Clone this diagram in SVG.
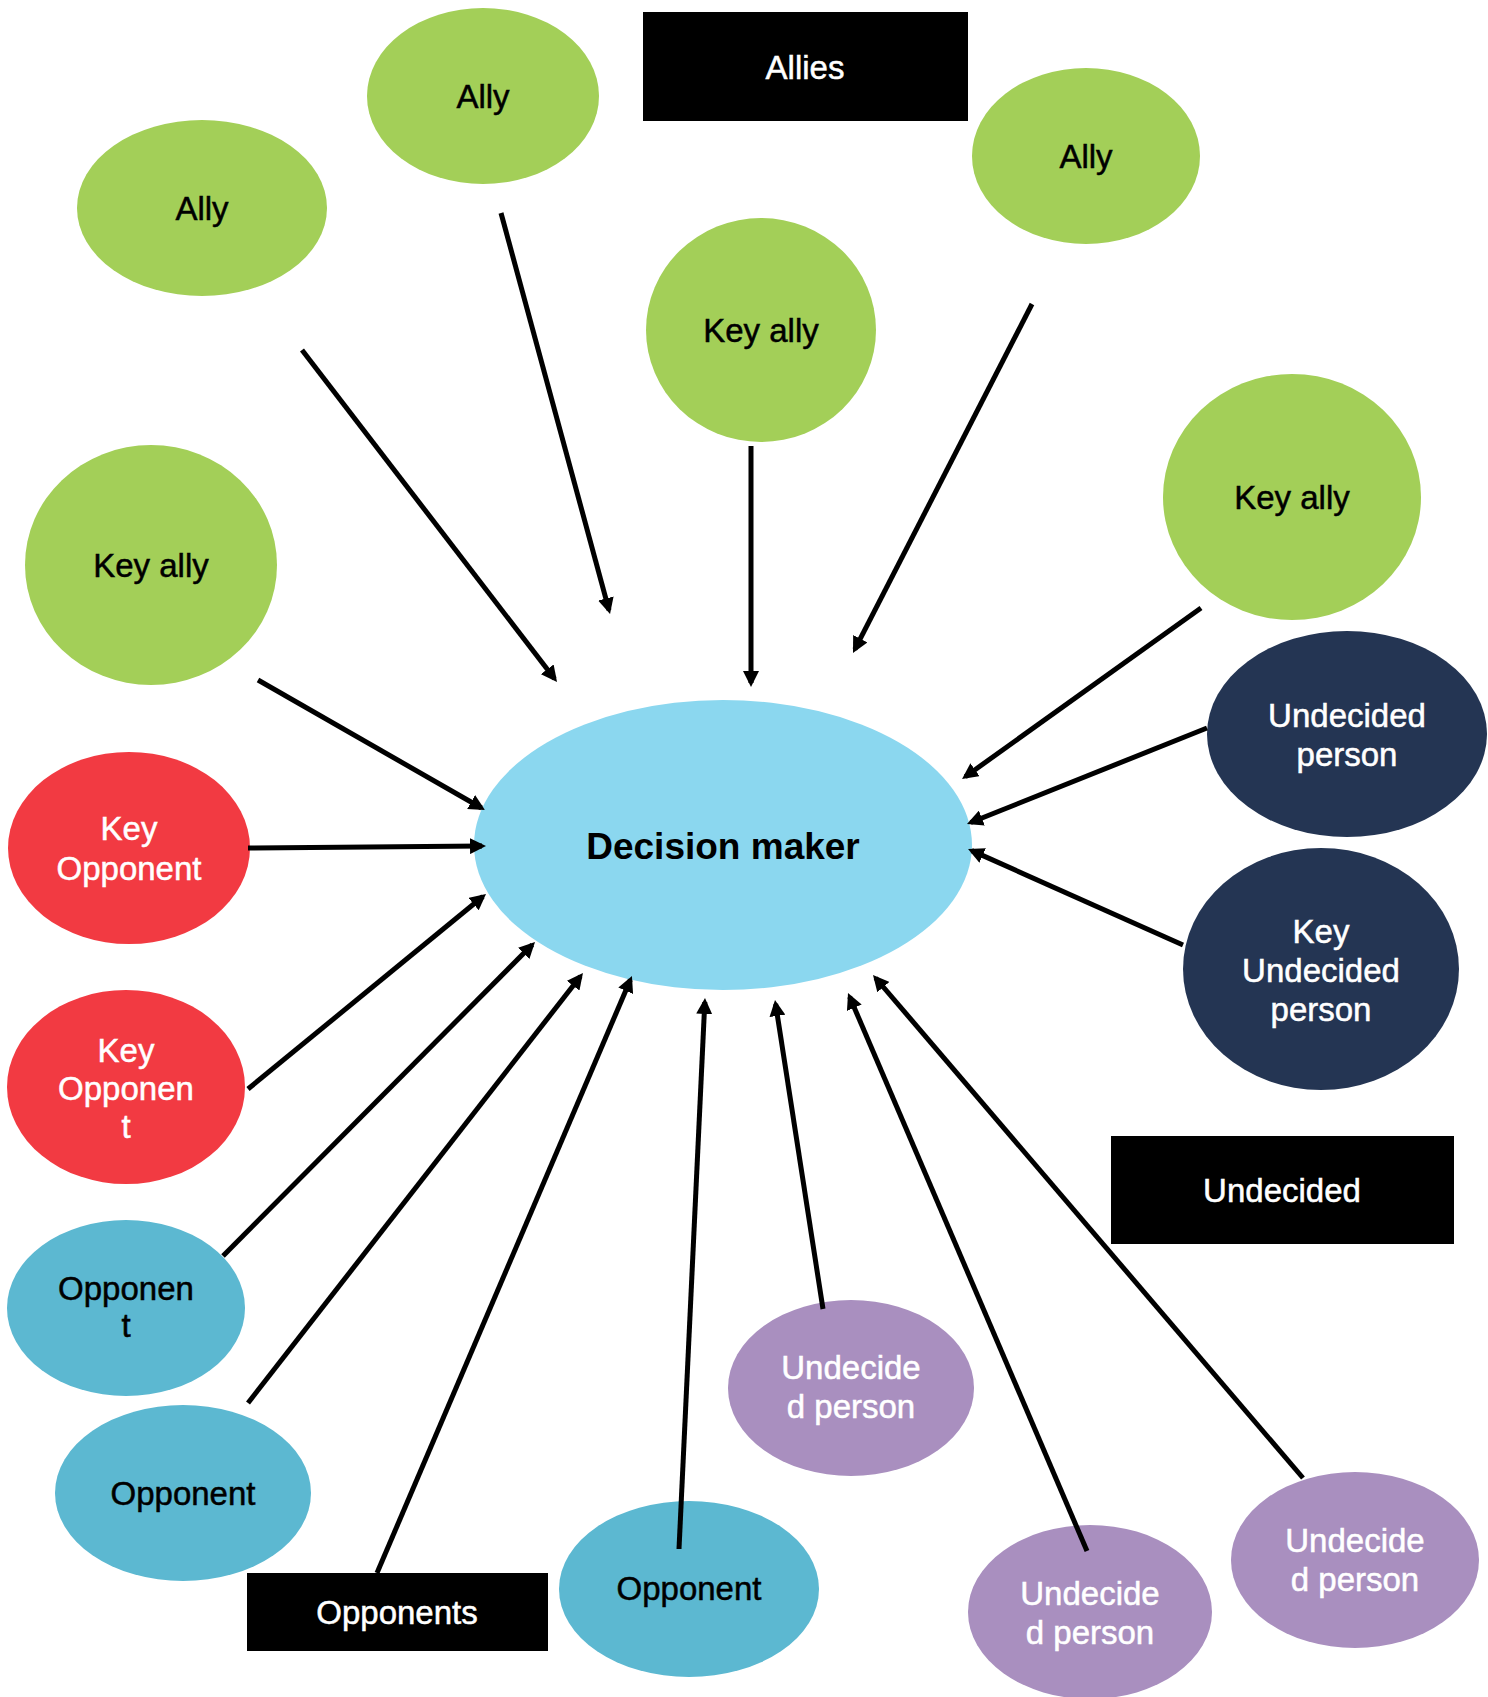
<svg xmlns="http://www.w3.org/2000/svg" width="1488" height="1697" viewBox="0 0 1488 1697">
  <style>
    text { font-family: "Liberation Sans", Arial, sans-serif; font-size: 33px; text-anchor: middle; stroke-width: 0.5px; }
    .ally { fill: #a3cf58; }
    .dm { fill: #8bd7ef; }
    .keyopp { fill: #f23a42; }
    .opp { fill: #5cb8d1; }
    .und { fill: #243553; }
    .undp { fill: #a98fbf; }
    .box { fill: #000000; }
    .dark { fill: #000000; stroke: #000000; }
    .light { fill: #ffffff; stroke: #ffffff; }
    .title { font-size: 37px; font-weight: bold; stroke: none; }
    .conn line { stroke: #000000; stroke-width: 5; fill: none; marker-end: url(#arrow); }
  </style>
  <defs>
    <marker id="arrow" markerUnits="userSpaceOnUse" markerWidth="16" markerHeight="16" viewBox="0 0 16 16" refX="12" refY="8" orient="auto">
      <path d="M0,0 L16,8 L0,16 z" fill="#000000"/>
    </marker>
  </defs>
  <rect width="1488" height="1697" fill="#ffffff"/>

  <!-- group headings -->
  <g id="allies-label">
    <rect class="box" x="643" y="12" width="325" height="109"/>
    <text class="light" x="805" y="79">Allies</text>
  </g>
  <g id="undecided-label">
    <rect class="box" x="1111" y="1136" width="343" height="108"/>
    <text class="light" x="1282" y="1202">Undecided</text>
  </g>
  <g id="opponents-label">
    <rect class="box" x="247" y="1573" width="301" height="78"/>
    <text class="light" x="397" y="1624">Opponents</text>
  </g>

  <!-- allies -->
  <g id="ally-1">
    <ellipse class="ally" cx="202" cy="208" rx="125" ry="88"/>
    <text class="dark" x="202" y="220">Ally</text>
  </g>
  <g id="ally-2">
    <ellipse class="ally" cx="483" cy="96" rx="116" ry="88"/>
    <text class="dark" x="483" y="108">Ally</text>
  </g>
  <g id="ally-3">
    <ellipse class="ally" cx="1086" cy="156" rx="114" ry="88"/>
    <text class="dark" x="1086" y="168">Ally</text>
  </g>
  <g id="key-ally-top">
    <ellipse class="ally" cx="761" cy="330" rx="115" ry="112"/>
    <text class="dark" x="761" y="342">Key ally</text>
  </g>
  <g id="key-ally-right">
    <ellipse class="ally" cx="1292" cy="497" rx="129" ry="123"/>
    <text class="dark" x="1292" y="509">Key ally</text>
  </g>
  <g id="key-ally-left">
    <ellipse class="ally" cx="151" cy="565" rx="126" ry="120"/>
    <text class="dark" x="151" y="577">Key ally</text>
  </g>

  <!-- centre -->
  <g id="decision-maker">
    <ellipse class="dm" cx="723" cy="845" rx="249" ry="145"/>
    <text class="dark title" x="723" y="859">Decision maker</text>
  </g>

  <!-- undecided -->
  <g id="undecided-person">
    <ellipse class="und" cx="1347" cy="734" rx="140" ry="103"/>
    <text class="light" x="1347" y="727">Undecided</text>
    <text class="light" x="1347" y="766">person</text>
  </g>
  <g id="key-undecided-person">
    <ellipse class="und" cx="1321" cy="969" rx="138" ry="121"/>
    <text class="light" x="1321" y="943">Key</text>
    <text class="light" x="1321" y="982">Undecided</text>
    <text class="light" x="1321" y="1021">person</text>
  </g>
  <g id="undecided-person-1">
    <ellipse class="undp" cx="851" cy="1388" rx="123" ry="88"/>
    <text class="light" x="851" y="1379">Undecide</text>
    <text class="light" x="851" y="1418">d person</text>
  </g>
  <g id="undecided-person-2">
    <ellipse class="undp" cx="1090" cy="1612" rx="122" ry="87"/>
    <text class="light" x="1090" y="1605">Undecide</text>
    <text class="light" x="1090" y="1644">d person</text>
  </g>
  <g id="undecided-person-3">
    <ellipse class="undp" cx="1355" cy="1560" rx="124" ry="88"/>
    <text class="light" x="1355" y="1552">Undecide</text>
    <text class="light" x="1355" y="1591">d person</text>
  </g>

  <!-- opponents -->
  <g id="key-opponent-1">
    <ellipse class="keyopp" cx="129" cy="848" rx="121" ry="96"/>
    <text class="light" x="129" y="840">Key</text>
    <text class="light" x="129" y="880">Opponent</text>
  </g>
  <g id="key-opponent-2">
    <ellipse class="keyopp" cx="126" cy="1087" rx="119" ry="97"/>
    <text class="light" x="126" y="1062">Key</text>
    <text class="light" x="126" y="1100">Opponen</text>
    <text class="light" x="126" y="1138">t</text>
  </g>
  <g id="opponent-1">
    <ellipse class="opp" cx="126" cy="1308" rx="119" ry="88"/>
    <text class="dark" x="126" y="1300">Opponen</text>
    <text class="dark" x="126" y="1337">t</text>
  </g>
  <g id="opponent-2">
    <ellipse class="opp" cx="183" cy="1493" rx="128" ry="88"/>
    <text class="dark" x="183" y="1505">Opponent</text>
  </g>
  <g id="opponent-3">
    <ellipse class="opp" cx="689" cy="1589" rx="130" ry="88"/>
    <text class="dark" x="689" y="1600">Opponent</text>
  </g>

  <!-- arrows pointing in to the decision maker, drawn over the nodes -->
  <g id="connectors" class="conn">
    <line x1="302" y1="350" x2="554.6" y2="678.8"/>
    <line x1="501" y1="213" x2="609" y2="610.1"/>
    <line x1="751" y1="446" x2="751" y2="683"/>
    <line x1="1032" y1="304" x2="854.8" y2="649.4"/>
    <line x1="1201" y1="608" x2="965.3" y2="776.7"/>
    <line x1="258" y1="680" x2="481.5" y2="808"/>
    <line x1="248" y1="848" x2="482" y2="846"/>
    <line x1="248" y1="1089" x2="482.9" y2="896.5"/>
    <line x1="223" y1="1256" x2="532.2" y2="944.8"/>
    <line x1="248" y1="1403" x2="580.5" y2="976.2"/>
    <line x1="377" y1="1573" x2="630.4" y2="979.7"/>
    <line x1="679" y1="1549" x2="704.8" y2="1002"/>
    <line x1="823" y1="1309" x2="775.6" y2="1004"/>
    <line x1="1087" y1="1551" x2="849.6" y2="996.7"/>
    <line x1="1303" y1="1478" x2="875.6" y2="978"/>
    <line x1="1207" y1="728" x2="970.7" y2="822.5"/>
    <line x1="1183" y1="945" x2="971.7" y2="850.6"/>
  </g>
</svg>
